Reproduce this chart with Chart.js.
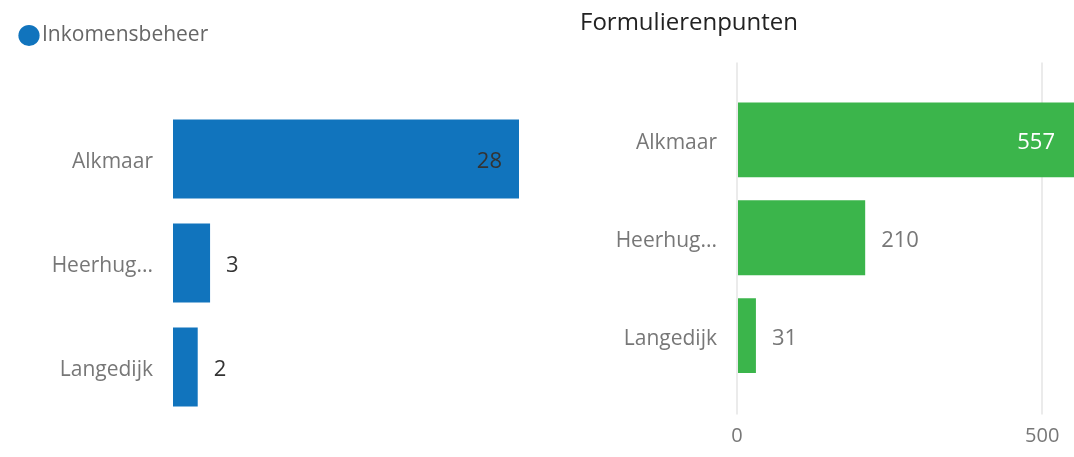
<!DOCTYPE html>
<html>
<head>
<meta charset="utf-8">
<script src="https://cdn.jsdelivr.net/npm/chart.js@4/dist/chart.umd.min.js"></script>
<style>
  html, body { margin: 0; padding: 0; background: #fff; overflow: hidden; }
  body { width: 1074px; height: 457px; position: relative; }
  .box { position: absolute; top: 0; height: 457px; }
  #leftBox { left: 0; width: 560px; }
  #rightBox { left: 580px; width: 497px; }
</style>
</head>
<body>
<div class="box" id="leftBox"><canvas id="inkomen"></canvas></div>
<div class="box" id="rightBox"><canvas id="formulier"></canvas></div>
<script>
const cities = ["Alkmaar", "Heerhugowaard", "Langedijk"];
const inkomensbeheer = [28, 3, 2];
const formulierenpunten = [557, 210, 31];
const formulierTicks = [0, 500];

const FONT = "'Open Sans', 'Noto Sans', sans-serif";
const GREY = "#777777";

// short city names like the report does ("Heerhug...")
function shortLabel(value) {
  const label = this.getLabelForValue(value);
  return label.length > 9 ? label.slice(0, 7) + "..." : label;
}

// draws the number next to (or inside) each bar
const valueLabels = {
  id: "valueLabels",
  afterDatasetsDraw(chart, args, opts) {
    const { ctx, chartArea } = chart;
    const values = chart.data.datasets[0].data;
    const max = Math.max(...values);
    ctx.save();
    ctx.font = "22px " + FONT;
    ctx.textBaseline = "middle";
    chart.getDatasetMeta(0).data.forEach((bar, i) => {
      const { x, y } = bar.getProps(["x", "y"], true);
      const text = String(values[i]);
      const ty = y + 3;
      if (values[i] >= max * 0.6) {
        ctx.textAlign = "right";
        ctx.fillStyle = opts.insideColor;
        ctx.fillText(text, Math.min(x, chartArea.right) - opts.insidePad, ty);
      } else {
        ctx.textAlign = "left";
        ctx.fillStyle = opts.outsideColor;
        ctx.fillText(text, x + 16, ty);
      }
    });
    ctx.restore();
  },
};

const categoryAxis = (width) => ({
  afterFit: (s) => { s.width = width; },
  grid: { display: false, drawTicks: false },
  border: { display: false },
  ticks: {
    callback: shortLabel,
    padding: 20,
    labelOffset: 3,
    color: GREY,
    font: { family: FONT, size: 21 },
  },
});

new Chart(document.getElementById("inkomen"), {
  type: "bar",
  data: {
    labels: cities,
    datasets: [
      {
        label: "Inkomensbeheer",
        data: inkomensbeheer,
        backgroundColor: "#1174bd",
        barPercentage: 0.76,
        categoryPercentage: 1,
      },
    ],
  },
  options: {
    indexAxis: "y",
    responsive: true,
    maintainAspectRatio: false,
    animation: false,
    layout: { padding: { left: 16.5, right: 41, top: 15, bottom: 38 } },
    scales: {
      x: { display: false, min: 0, max: Math.max(...inkomensbeheer) },
      top: {
        type: "linear",
        position: "top",
        afterFit: (s) => { s.height = 51; },
        ticks: { display: false },
        grid: { display: false },
        border: { display: false },
      },
      y: categoryAxis(156.5),
    },
    plugins: {
      legend: {
        align: "start",
        labels: {
          usePointStyle: true,
          pointStyle: "circle",
          boxWidth: 5,
          boxHeight: 15,
          padding: 10,
          color: "#666666",
          font: { family: FONT, size: 21 },
        },
      },
      tooltip: { enabled: false },
      valueLabels: { insideColor: "#333333", outsideColor: "#333333", insidePad: 17 },
    },
  },
  plugins: [valueLabels],
});

const formGrid = { color: "#ebebeb", lineWidth: 2 };

new Chart(document.getElementById("formulier"), {
  type: "bar",
  data: {
    labels: cities,
    datasets: [
      {
        label: "Formulierenpunten",
        data: formulierenpunten,
        backgroundColor: "#3bb54b",
        barPercentage: 0.765,
        categoryPercentage: 1,
      },
    ],
  },
  options: {
    indexAxis: "y",
    responsive: true,
    maintainAspectRatio: false,
    animation: false,
    layout: { padding: 0 },
    scales: {
      x: {
        min: 0,
        max: Math.max(...formulierenpunten),
        afterBuildTicks: (s) => { s.ticks = formulierTicks.map((v) => ({ value: v })); },
        afterFit: (s) => { s.height = 72.5; },
        grid: { ...formGrid, tickLength: 30 },
        border: { display: false },
        ticks: { padding: 10, color: GREY, font: { family: FONT, size: 20 } },
      },
      x2: {
        type: "linear",
        position: "top",
        axis: "x",
        min: 0,
        max: Math.max(...formulierenpunten),
        afterBuildTicks: (s) => { s.ticks = formulierTicks.map((v) => ({ value: v })); },
        afterFit: (s) => { s.height = 28.5; },
        grid: { ...formGrid, drawOnChartArea: false, tickLength: 28.5 },
        border: { display: false },
        ticks: { display: false },
      },
      y: categoryAxis(157),
    },
    plugins: {
      legend: { display: false },
      title: {
        display: true,
        text: "Formulierenpunten",
        align: "start",
        color: "#222222",
        font: { family: FONT, size: 24, weight: "normal" },
        padding: { top: 9, bottom: 24.6 },
      },
      tooltip: { enabled: false },
      valueLabels: { insideColor: "#ffffff", outsideColor: GREY, insidePad: 22 },
    },
  },
  plugins: [valueLabels],
});
</script>
</body>
</html>
